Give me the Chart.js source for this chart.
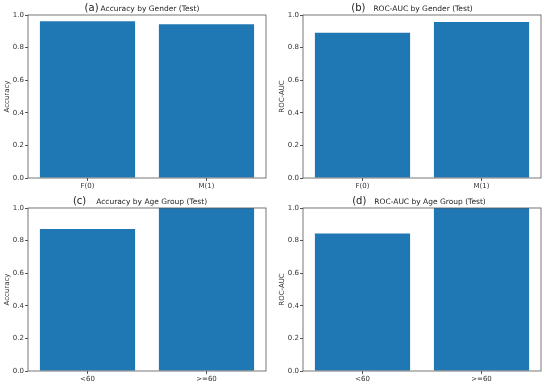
<!DOCTYPE html>
<html>
<head>
<meta charset="UTF-8">
<script src="https://cdn.jsdelivr.net/npm/chart.js"></script>
<style>
  body { margin: 0; background: #fff; }
  .panel { position: absolute; }
</style>
</head>
<body>
<div class="panel" style="left:0;top:0;width:275px;height:192px"><canvas id="a"></canvas></div>
<div class="panel" style="left:275px;top:0;width:275px;height:192px"><canvas id="b"></canvas></div>
<div class="panel" style="left:0;top:192px;width:275px;height:196px"><canvas id="c"></canvas></div>
<div class="panel" style="left:275px;top:192px;width:275px;height:196px"><canvas id="d"></canvas></div>
<script>
// Data
const genderLabels = ['F(0)', 'M(1)'];
const ageLabels = ['<60', '>=60'];
const accGender = [0.962, 0.943];
const aucGender = [0.891, 0.957];
const accAge = [0.871, 1.0];
const aucAge = [0.844, 1.0];
const yTicks = [0.0, 0.2, 0.4, 0.6, 0.8, 1.0];

const BAR = '#1f77b4';
const FONT = 'DejaVu Sans';

// draws "(a)" bigger, then the title text, centred over the plot
const panelTitle = {
  id: 'panelTitle',
  afterDraw(chart, args, opts) {
    const ctx = chart.ctx;
    const area = chart.chartArea;
    ctx.save();
    ctx.fillStyle = '#222';
    ctx.textBaseline = 'alphabetic';
    ctx.font = '10px ' + FONT;
    const w1 = ctx.measureText(opts.tag).width;
    ctx.font = '7.5px ' + FONT;
    const w2 = ctx.measureText(opts.text).width;
    const gap = opts.gap;
    let x = (area.left + area.right) / 2 - (w1 + gap + w2) / 2 + opts.shift;
    const y = area.top - 4;
    ctx.font = '10px ' + FONT;
    ctx.fillText(opts.tag, x, y);
    ctx.font = '7.5px ' + FONT;
    ctx.fillText(opts.text, x + w1 + gap, y);
    ctx.restore();
  }
};

// matplotlib-style box around the axes
const frame = {
  id: 'frame',
  afterDraw(chart) {
    const a = chart.chartArea;
    const ctx = chart.ctx;
    ctx.save();
    ctx.strokeStyle = '#555';
    ctx.lineWidth = 0.8;
    ctx.strokeRect(a.left, a.top, a.right - a.left, a.bottom - a.top);
    ctx.restore();
  }
};

function makeChart(id, labels, values, yLabel, tag, text, topPad, xHeight, gap, shift) {
  new Chart(document.getElementById(id), {
    type: 'bar',
    data: {
      labels: labels,
      datasets: [{
        data: values,
        backgroundColor: BAR,
        borderWidth: 0,
        barPercentage: 0.8,
        categoryPercentage: 1.0
      }]
    },
    options: {
      responsive: true,
      maintainAspectRatio: false,
      animation: false,
      layout: { padding: { top: topPad, right: 9, left: 0, bottom: 0 } },
      plugins: {
        legend: { display: false },
        tooltip: { enabled: false },
        title: { display: false },
        panelTitle: { tag: tag, text: text, gap: gap, shift: shift }
      },
      scales: {
        x: {
          offset: true,
          grid: { display: true, drawOnChartArea: false, drawTicks: true, tickLength: 3, tickColor: '#555', offset: false },
          border: { display: false },
          ticks: { font: { family: FONT, size: 7 }, color: '#333', padding: 1, maxRotation: 0 },
          afterFit(scale) { scale.height = xHeight; }
        },
        y: {
          min: 0,
          max: 1,
          afterBuildTicks(scale) { scale.ticks = yTicks.map(v => ({ value: v })); },
          grid: { display: true, drawOnChartArea: false, drawTicks: true, tickLength: 3, tickColor: '#555' },
          border: { display: false },
          ticks: {
            font: { family: FONT, size: 7 }, color: '#333', padding: 1,
            callback: v => Number(v).toFixed(1)
          },
          title: { display: true, text: yLabel, font: { family: FONT, size: 7 }, color: '#333', padding: { top: 3, bottom: 0 } },
          afterFit(scale) { scale.width = 28; }
        }
      }
    },
    plugins: [panelTitle, frame]
  });
}

makeChart('a', genderLabels, accGender, 'Accuracy', '(a)', 'Accuracy by Gender (Test)', 15, 14, 2, -5);
makeChart('b', genderLabels, aucGender, 'ROC-AUC', '(b)', 'ROC-AUC by Gender (Test)', 15, 14, 8, -10);
makeChart('c', ageLabels, accAge, 'Accuracy', '(c)', 'Accuracy by Age Group (Test)', 16, 17, 10, -7);
makeChart('d', ageLabels, aucAge, 'ROC-AUC', '(d)', 'ROC-AUC by Age Group (Test)', 16, 17, 8, -3);
</script>
</body>
</html>
